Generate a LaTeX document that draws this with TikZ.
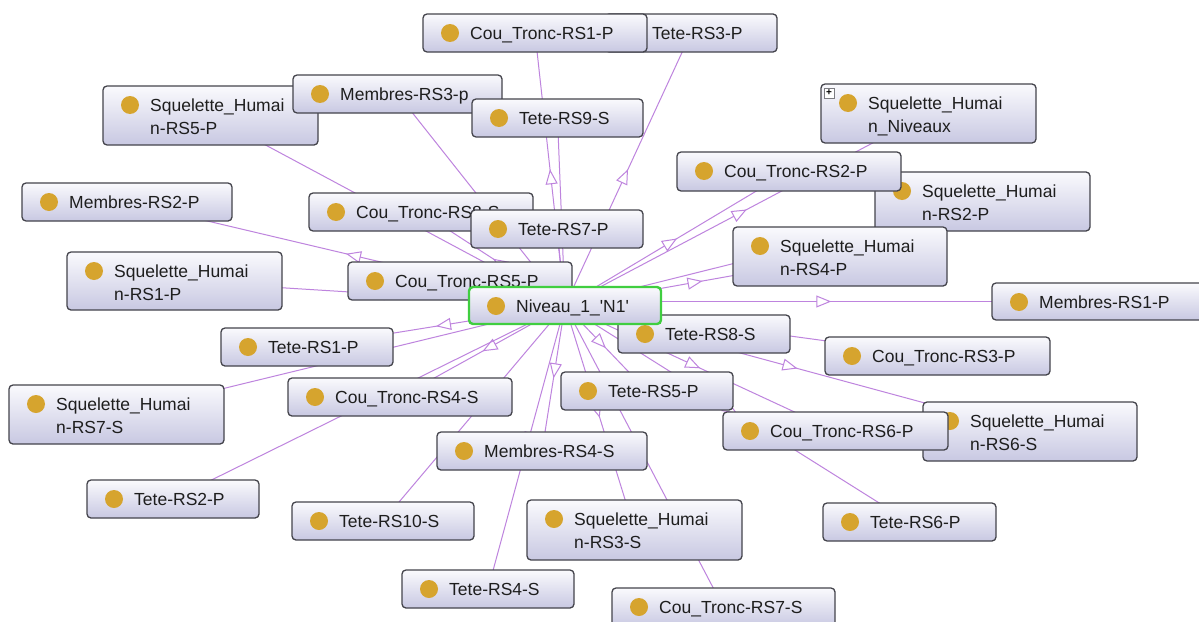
\documentclass[tikz,border=0pt]{standalone}
\usepackage{fontspec}
\setmainfont{Liberation Sans}
\usetikzlibrary{arrows.meta,decorations.markings}

\pgfdeclarelayer{paper}
\pgfdeclarelayer{edges}
\pgfsetlayers{paper,edges,main}

\definecolor{edgecol}{RGB}{190,132,222}
\definecolor{boxtop}{RGB}{250,250,253}
\definecolor{boxbot}{RGB}{200,200,226}
\definecolor{boxline}{RGB}{68,68,76}
\definecolor{dotcol}{RGB}{214,164,46}
\definecolor{selgreen}{RGB}{64,206,64}
\definecolor{txtcol}{RGB}{30,30,30}

\tikzset{
  ogbox/.style={draw=boxline, line width=1.3pt, rounded corners=4pt,
    top color=boxtop, bottom color=boxbot, inner sep=0pt},
  ogsel/.style={ogbox, draw=selgreen, line width=2.4pt},
  ogtext/.style={anchor=base west, inner sep=0pt,
    font=\fontsize{17.5}{21}\selectfont, text=txtcol},
  ogdot/.style={fill=dotcol},
  isa/.style={draw=edgecol, line width=1pt, postaction={decorate},
    decoration={markings, mark=at position 0.5 with
      {\arrow{Triangle[length=15pt,width=12pt,fill=white,line width=1pt]}}}},
}

% one-line class box: [style]{name}{x1}{y1}{x2}{y2}{label}
\newcommand\ogone[7][ogbox]{%
  \node[#1, minimum width={#5-#3}, minimum height={#6-#4}] (#2)
    at ({(#3+#5)/2},{(#4+#6)/2}) {};
  \fill[ogdot] (#3+27,#4+19) circle (9pt);
  \node[ogtext] (#2-t) at (#3+47,#4+25.3) {#7};
}
% two-line class box: {name}{x1}{y1}{x2}{y2}{line 1}{line 2}
\newcommand\ogtwo[7]{%
  \node[ogbox, minimum width={#4-#2}, minimum height={#5-#3}] (#1)
    at ({(#2+#4)/2},{(#3+#5)/2}) {};
  \fill[ogdot] (#2+27,#3+19) circle (9pt);
  \node[ogtext] (#1-t) at (#2+47,#3+25.3) {#6};
  \node[ogtext] (#1-u) at (#2+47,#3+48.3) {#7};
}

\begin{document}
\begin{tikzpicture}[x=1pt,y=-1pt]
  \useasboundingbox (0,0) rectangle (1199,621);
  \clip (0,0) rectangle (1199,621);
  \begin{pgfonlayer}{paper}
    \fill[white] (0,0) rectangle (1199,621);
  \end{pgfonlayer}

  % class boxes, from back to front
  \ogone{trs3p}{605}{14}{777}{52}{Tete-RS3-P}
  \ogone{ctrs1p}{423}{14}{647}{52}{Cou\_Tronc-RS1-P}
  \ogtwo{shrs5p}{103}{86}{318}{145}{Squelette\_Humai}{n-RS5-P}
  \ogone{mrs3p}{293}{75}{502}{113}{Membres-RS3-p}
  \ogone{trs9s}{472}{99}{643}{137}{Tete-RS9-S}
  \ogtwo{shniv}{821}{84}{1036}{143}{Squelette\_Humai}{n\_Niveaux}
  \node[draw=boxline!70, fill=white, line width=0.6pt, minimum size=10pt,
    inner sep=0pt, font=\fontsize{10}{10}\selectfont\bfseries]
    (plusicon) at (829,93) {+};
  \ogtwo{shrs2p}{875}{172}{1090}{231}{Squelette\_Humai}{n-RS2-P}
  \ogone{ctrs2p}{677}{152}{901}{191}{Cou\_Tronc-RS2-P}
  \ogtwo{shrs4p}{733}{227}{947}{286}{Squelette\_Humai}{n-RS4-P}
  \ogone{mrs2p}{22}{183}{232}{221}{Membres-RS2-P}
  \ogone{ctrs8s}{309}{193}{533}{231}{Cou\_Tronc-RS8-S}
  \ogone{trs7p}{471}{210}{643}{248}{Tete-RS7-P}
  \ogtwo{shrs1p}{67}{252}{282}{310}{Squelette\_Humai}{n-RS1-P}
  \ogone{ctrs5p}{348}{262}{572}{300}{Cou\_Tronc-RS5-P}
  \ogone{trs8s}{618}{315}{790}{353}{Tete-RS8-S}
  \ogone[ogsel]{niv}{469}{287}{661}{324}{Niveau\_1\_\textquotesingle N1\textquotesingle}
  \ogone{mrs1p}{992}{283}{1203}{320}{Membres-RS1-P}
  \ogone{trs1p}{221}{328}{393}{366}{Tete-RS1-P}
  \ogone{ctrs3p}{825}{337}{1050}{375}{Cou\_Tronc-RS3-P}
  \ogtwo{shrs7s}{9}{385}{224}{444}{Squelette\_Humai}{n-RS7-S}
  \ogone{ctrs4s}{288}{378}{512}{416}{Cou\_Tronc-RS4-S}
  \ogone{trs5p}{561}{372}{733}{410}{Tete-RS5-P}
  \ogtwo{shrs6s}{923}{402}{1137}{461}{Squelette\_Humai}{n-RS6-S}
  \ogone{ctrs6p}{723}{412}{948}{450}{Cou\_Tronc-RS6-P}
  \ogone{mrs4s}{437}{432}{647}{470}{Membres-RS4-S}
  \ogone{trs2p}{87}{480}{259}{518}{Tete-RS2-P}
  \ogone{trs10s}{292}{502}{474}{540}{Tete-RS10-S}
  \ogtwo{shrs3s}{527}{500}{742}{560}{Squelette\_Humai}{n-RS3-S}
  \ogone{trs6p}{823}{503}{996}{541}{Tete-RS6-P}
  \ogone{trs4s}{402}{570}{574}{608}{Tete-RS4-S}
  \ogone{ctrs7s}{612}{588}{835}{627}{Cou\_Tronc-RS7-S}

  % is-a links from the selected individual to every class
  \begin{pgfonlayer}{edges}
    \foreach \n in {trs3p,ctrs1p,shrs5p,mrs3p,trs9s,shniv,shrs2p,ctrs2p,
        shrs4p,mrs2p,ctrs8s,trs7p,shrs1p,ctrs5p,trs8s,trs1p,ctrs3p,
        shrs7s,ctrs4s,trs5p,shrs6s,ctrs6p,mrs4s,trs2p,trs10s,shrs3s,trs6p,
        trs4s,ctrs7s}
      \draw[isa] (niv.center) -- (\n.center);
    % the link to Membres-RS1-P runs level with its box
    \draw[isa] (niv.center |- mrs1p.center) -- (mrs1p.center);
  \end{pgfonlayer}
\end{tikzpicture}
\end{document}
